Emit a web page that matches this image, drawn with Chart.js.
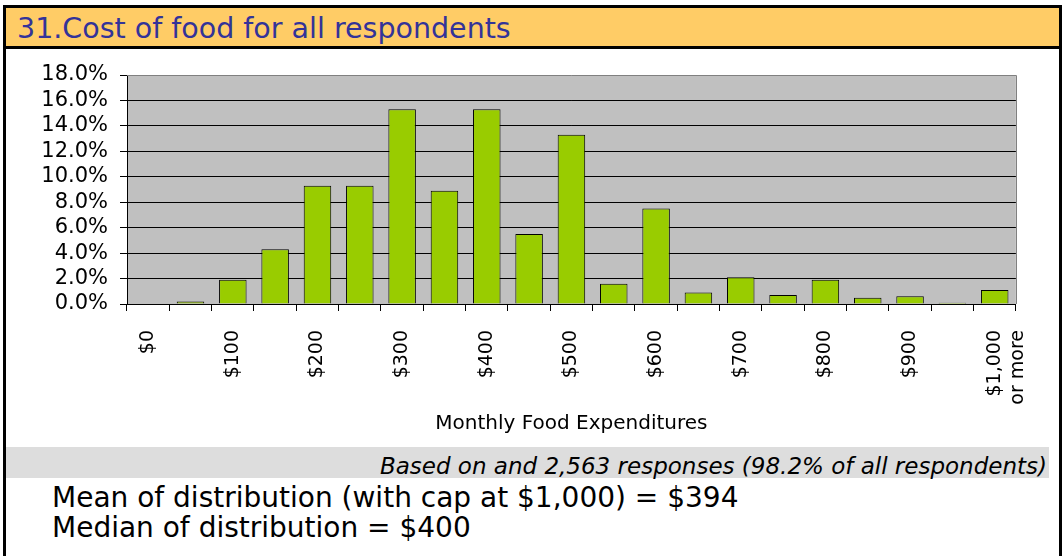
<!DOCTYPE html>
<html>
<head>
<meta charset="utf-8">
<script src="https://cdn.jsdelivr.net/npm/chart.js@4.4.1/dist/chart.umd.min.js"></script>
<style>
  html, body { margin: 0; padding: 0; background: #fff; }
  body { width: 1062px; height: 556px; position: relative; overflow: hidden; font-family: "DejaVu Sans", Verdana, sans-serif; }
  #frame { position: absolute; left: 3px; top: 5px; width: 1059px; height: 600px; box-sizing: border-box; border: 3px solid #000; border-bottom: none; background: #fff; }
  #titlebar { position: absolute; left: 0; top: 0; right: 0; height: 41px; box-sizing: border-box; background: #ffcc66; border-bottom: 3px solid #000; }
  #title { position: absolute; left: 17px; top: 15px; font-size: 28.5px; line-height: 1; color: #333399; white-space: nowrap; }
  #chart { position: absolute; left: 0; top: 0; }
  #band { position: absolute; left: 6px; top: 447px; width: 1043px; height: 31px; background: #dddddd; }
  #note { position: absolute; right: 15px; top: 455px; font-size: 23px; font-style: italic; line-height: 1; color: #000; white-space: nowrap; }
  .stat { position: absolute; left: 52px; font-size: 28px; line-height: 1; color: #000; white-space: nowrap; }
</style>
</head>
<body>
<div id="frame"><div id="titlebar"></div></div>
<div id="title">31.Cost of food for all respondents</div>
<div id="band"></div>
<div id="note">Based on and 2,563 responses (98.2% of all respondents)</div>
<div class="stat" style="top:484px">Mean of distribution (with cap at $1,000) = $394</div>
<div class="stat" style="top:514px">Median of distribution = $400</div>
<canvas id="chart" width="1062" height="440"></canvas>
<script>
// share of respondents per $50 bin of monthly food spending
const categories = [
  "$0", "$50", "$100", "$150", "$200", "$250", "$300", "$350", "$400", "$450",
  "$500", "$550", "$600", "$650", "$700", "$750", "$800", "$850", "$900", "$950",
  "$1,000 or more",
];
const shares = [
  0, 0.2, 1.9, 4.3, 9.3, 9.3, 15.3, 8.9, 15.3, 5.5,
  13.3, 1.6, 7.5, 0.9, 2.1, 0.7, 1.9, 0.5, 0.6, 0.1,
  1.1,
];
// only every other bin gets a label on the axis
const tickLabels = [
  "$0", "", "$100", "", "$200", "", "$300", "", "$400", "",
  "$500", "", "$600", "", "$700", "", "$800", "", "$900", "",
  ["$1,000", "or more"],
];
const yMax = 18;
const yStep = 2;

const FONT = "DejaVu Sans, Verdana, sans-serif";

// grey plot area with a thin darker frame on top and right, like the Excel original
const plotBackground = {
  id: "plotBackground",
  beforeDraw(chart) {
    const { ctx, chartArea: a } = chart;
    ctx.save();
    ctx.fillStyle = "#c0c0c0";
    ctx.fillRect(a.left, a.top, a.right - a.left, a.bottom - a.top);
    ctx.restore();
  },
  beforeDatasetsDraw(chart) {
    const { ctx, chartArea: a } = chart;
    ctx.save();
    ctx.strokeStyle = "#808080";
    ctx.lineWidth = 1;
    ctx.beginPath();
    ctx.moveTo(a.left, Math.round(a.top) + 0.5);
    ctx.lineTo(Math.round(a.right) + 0.5, Math.round(a.top) + 0.5);
    ctx.lineTo(Math.round(a.right) + 0.5, a.bottom);
    ctx.stroke();
    ctx.restore();
  },
};

new Chart(document.getElementById("chart").getContext("2d"), {
  type: "bar",
  data: {
    labels: categories,
    datasets: [
      {
        data: shares,
        backgroundColor: "#99cc00",
        borderColor: "#000000",
        borderWidth: 1,
        barPercentage: 0.65,
        categoryPercentage: 1,
      },
    ],
  },
  options: {
    responsive: false,
    animation: false,
    layout: { padding: { top: 75, right: 33, left: 0, bottom: 0 } },
    plugins: {
      legend: { display: false },
      tooltip: { enabled: false },
    },
    scales: {
      x: {
        grid: {
          display: true,
          offset: true,
          drawOnChartArea: false,
          color: "#000000",
          tickLength: 7,
        },
        border: { color: "#000000", width: 1 },
        ticks: {
          autoSkip: false,
          minRotation: 90,
          maxRotation: 90,
          padding: 19,
          color: "#000000",
          font: { family: FONT, size: 19, lineHeight: 1.25 },
          callback: (v, i) => tickLabels[i],
        },
        title: {
          display: true,
          text: "Monthly Food Expenditures",
          color: "#000000",
          font: { family: FONT, size: 20 },
          padding: { top: 4, bottom: 4 },
        },
        afterFit: (s) => { s.height = 136; },
      },
      y: {
        min: 0,
        max: yMax,
        grid: {
          color: (c) => (c.tick && c.tick.value === yMax ? "rgba(0,0,0,0)" : "#000000"),
          tickColor: "#000000",
          tickLength: 7,
          lineWidth: 1,
        },
        border: { color: "#000000", width: 1 },
        ticks: {
          stepSize: yStep,
          autoSkip: false,
          maxTicksLimit: 20,
          padding: 12,
          color: "#000000",
          font: { family: FONT, size: 21, lineHeight: 1 },
          callback: (v) => v.toFixed(1) + "%",
        },
        afterFit: (s) => { s.width = 127; },
      },
    },
  },
  plugins: [plotBackground],
});
</script>
</body>
</html>
